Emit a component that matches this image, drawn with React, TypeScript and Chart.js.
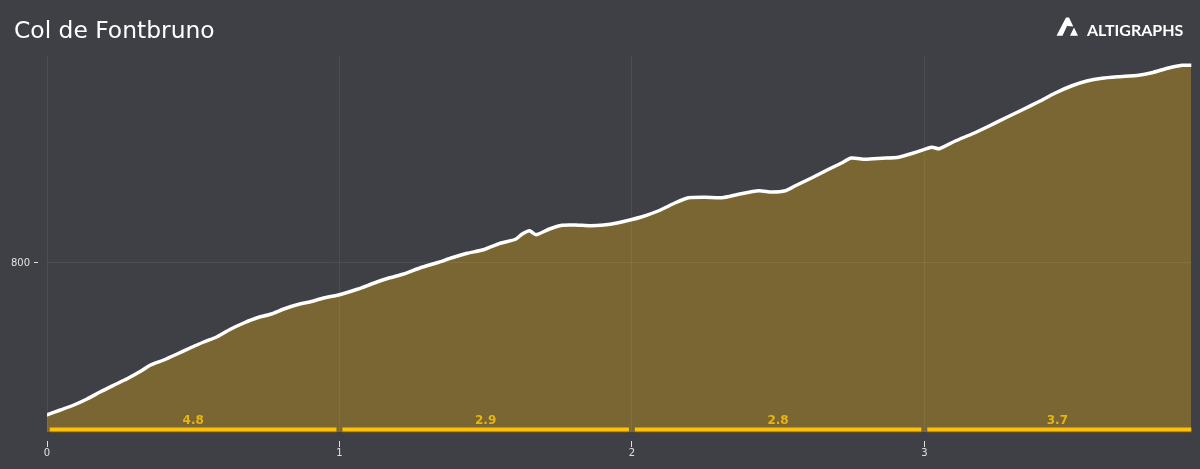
import { Chart, registerables } from 'chart.js';
import { useEffect, useRef } from 'react';

Chart.register(...registerables);

const title = 'Col de Fontbruno';
const brand = 'ALTIGRAPHS';

const distances = [
    0, 0.046, 0.092, 0.137, 0.183, 0.228, 0.274, 0.32, 0.354, 0.399, 0.445, 0.491, 0.536, 0.582, 0.627, 0.673,
    0.719, 0.764, 0.81, 0.855, 0.901, 0.946, 1, 1.061, 1.117, 1.169, 1.22, 1.277, 1.334, 1.385, 1.437, 1.493,
    1.55, 1.602, 1.625, 1.65, 1.672, 1.716, 1.761, 1.807, 1.858, 1.904, 1.949, 2, 2.035, 2.092, 2.149, 2.194,
    2.251, 2.308, 2.365, 2.434, 2.479, 2.525, 2.559, 2.616, 2.673, 2.719, 2.75, 2.798, 2.855, 2.912, 2.969, 3.026,
    3.051, 3.106, 3.163, 3.22, 3.277, 3.334, 3.391, 3.448, 3.505, 3.556, 3.608, 3.664, 3.733, 3.778, 3.835, 3.881,
    3.913
];
const elevations = [
    739.3, 741.2, 743.2, 745.6, 748.5, 751.1, 753.7, 756.7, 759.2, 761.2, 763.6, 766.1, 768.4, 770.5, 773.5, 776,
    778.1, 779.5, 781.6, 783.3, 784.5, 786, 787.3, 789.5, 791.9, 794, 795.6, 798.1, 800.1, 802.1, 803.9, 805.3,
    807.9, 809.5, 811.6, 812.9, 811.3, 813.5, 815.1, 815.2, 814.9, 815.2, 816, 817.4, 818.5, 820.9, 824.1, 826.1,
    826.3, 826.1, 827.5, 828.9, 828.4, 828.9, 830.9, 834.1, 837.5, 840.1, 842, 841.5, 841.9, 842.3, 844.2, 846.3,
    845.7, 848.8, 851.6, 854.7, 858, 861.2, 864.5, 868, 870.9, 872.8, 873.9, 874.5, 875.1, 876.1, 878, 879.1,
    879.1
];

const segmentStarts = [0.009, 1.01, 2.01, 3.01];
const segmentEnds = [0.99, 1.99, 2.99, 3.913];
const segmentGrades = ['4.8', '2.9', '2.8', '3.7'];
const segmentLabelAt = [0.5, 1.5, 2.5, 3.455];

const yTicks = [800];

const segmentLevel = 733.4;
const shadowLevel = 733;

const overlayPlugin = {
    id: 'overlay',
    afterDatasetsDraw(chart: Chart) {
        const { ctx, scales } = chart;
        ctx.save();

        ctx.fillStyle = '#e8b50f';
        ctx.font = 'bold 12px "DejaVu Sans"';
        ctx.textAlign = 'center';
        ctx.textBaseline = 'alphabetic';
        segmentGrades.forEach((grade, i) => {
            ctx.fillText(grade, scales.x.getPixelForValue(segmentLabelAt[i]), 424);
        });

        ctx.fillStyle = '#ffffff';
        ctx.textAlign = 'left';
        ctx.font = '23.4px "DejaVu Sans"';
        ctx.fillText(title, 14, 38);

        // logo
        ctx.beginPath();
        ctx.moveTo(1056.5, 35.7);
        ctx.lineTo(1066, 17.5);
        ctx.lineTo(1069, 17.5);
        ctx.lineTo(1073.3, 26.5);
        ctx.lineTo(1067, 26);
        ctx.lineTo(1062.5, 35.7);
        ctx.closePath();
        ctx.moveTo(1074, 27.5);
        ctx.lineTo(1078, 35.7);
        ctx.lineTo(1070, 35.7);
        ctx.closePath();
        ctx.fill();

        ctx.font = 'bold 16px Lato';
        ctx.fillText(brand, 1087, 36);

        ctx.restore();
    }
};

export default function App() {
    const canvasRef = useRef<HTMLCanvasElement>(null);

    useEffect(() => {
        if (!canvasRef.current) return;

        const chart = new Chart(canvasRef.current, {
            type: 'line',
            data: {
                datasets: [
                    ...segmentStarts.map((start, i) => ({
                        data: [{ x: start, y: shadowLevel }, { x: segmentEnds[i], y: shadowLevel }],
                        borderColor: '#7a5a05',
                        borderWidth: 4,
                        pointRadius: 0,
                        clip: false,
                        order: 2
                    })),
                    ...segmentStarts.map((start, i) => ({
                        data: [{ x: start, y: segmentLevel }, { x: segmentEnds[i], y: segmentLevel }],
                        borderColor: '#ffc107',
                        borderWidth: 4,
                        pointRadius: 0,
                        clip: false,
                        order: 1
                    })),
                    {
                        data: distances.map((d, i) => ({ x: d, y: elevations[i] })),
                        borderColor: '#ffffff',
                        borderWidth: 3.5,
                        borderCapStyle: 'round',
                        borderJoinStyle: 'round',
                        backgroundColor: 'rgba(255, 193, 7, 0.3)',
                        fill: 'start',
                        pointRadius: 0,
                        tension: 0.2,
                        order: 3
                    }
                ]
            } as any,
            options: {
                responsive: false,
                animation: false,
                layout: { padding: { top: 56, right: 8.7, bottom: 0, left: 0 } },
                scales: {
                    x: {
                        type: 'linear',
                        min: 0,
                        max: 3.913,
                        afterFit: (scale: any) => { scale.height = 37; },
                        border: { display: false },
                        grid: {
                            z: 1,
                            color: 'rgba(255, 255, 255, 0.07)',
                            tickColor: '#e0e0e0',
                            tickLength: 15,
                            tickBorderDash: [0, 9, 6, 99]
                        },
                        ticks: {
                            stepSize: 1,
                            includeBounds: false,
                            padding: 0,
                            maxRotation: 0,
                            color: '#e0e0e0',
                            font: { family: '"DejaVu Sans"', size: 10 }
                        }
                    },
                    y: {
                        min: 732.4,
                        max: 882.8,
                        afterFit: (scale: any) => { scale.width = 47; },
                        afterBuildTicks: (scale: any) => { scale.ticks = yTicks.map((value) => ({ value })); },
                        border: { display: false },
                        grid: {
                            z: 1,
                            color: 'rgba(255, 255, 255, 0.07)',
                            tickColor: '#e0e0e0',
                            tickLength: 13,
                            tickBorderDash: [4, 99]
                        },
                        ticks: {
                            padding: 4,
                            color: '#e0e0e0',
                            font: { family: '"DejaVu Sans"', size: 10 }
                        }
                    }
                },
                plugins: {
                    legend: { display: false },
                    title: { display: false },
                    tooltip: { enabled: false }
                }
            },
            plugins: [overlayPlugin]
        });

        return () => {
            chart.destroy();
        };
    }, []);

    return (
        <div style={{ position: 'fixed', top: 0, left: 0, width: 1200, height: 469, background: '#3f4046' }}>
            <canvas ref={canvasRef} width={1200} height={469} style={{ display: 'block' }} />
        </div>
    );
}
